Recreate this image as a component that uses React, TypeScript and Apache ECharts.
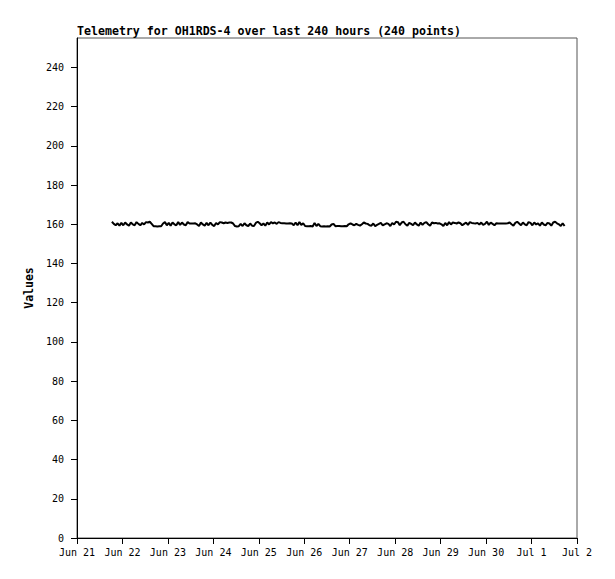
import React, { useEffect, useRef } from "react";
import * as echarts from "echarts";

const TITLE = "Telemetry for OH1RDS-4 over last 240 hours (240 points)";
const Y_NAME = "Values";
const Y_TICKS = [0, 20, 40, 60, 80, 100, 120, 140, 160, 180, 200, 220, 240];
const Y_MIN = 0;
const Y_MAX = 255;
const X_MIN = Date.UTC(2023, 5, 21);
const X_MAX = Date.UTC(2023, 6, 2);
const DAY = 86400000;
const HOUR = 3600000;
const START = Date.UTC(2023, 5, 21, 18, 26);
const MONTHS = ["Jan", "Feb", "Mar", "Apr", "May", "Jun", "Jul", "Aug", "Sep", "Oct", "Nov", "Dec"];

const VALUES = [
  161.3,160.2,159.5,160.5,159.3,160.7,159.5,160.9,159.9,159.3,160.9,160.0,159.5,161.1,160.2,159.5,160.7,159.9,161.1,160.9,
  161.3,160.2,159.0,159.0,158.9,159.0,159.0,160.4,161.1,159.5,160.7,159.3,160.9,160.0,159.5,161.1,159.7,160.9,159.9,159.5,
  161.1,160.4,160.4,160.4,160.5,159.9,159.1,160.9,159.9,159.3,160.7,159.5,160.9,159.7,159.1,160.7,159.9,161.1,160.9,160.5,
  160.9,160.7,160.9,160.9,160.4,159.1,158.9,159.0,160.2,159.1,160.5,159.5,159.1,160.4,159.3,159.1,160.7,161.3,160.5,159.5,
  160.4,159.3,160.9,159.9,161.1,160.5,160.9,160.2,161.1,160.7,160.5,160.5,160.4,160.4,160.5,160.4,159.5,160.9,159.5,161.1,
  159.7,160.5,159.1,159.0,159.0,159.1,158.9,160.7,159.1,160.2,159.0,158.9,159.0,158.9,159.0,158.9,159.9,160.2,159.0,159.1,
  159.1,159.0,159.0,159.1,159.0,160.0,160.5,159.9,159.5,160.2,159.7,159.3,160.0,160.9,160.4,160.2,159.5,159.3,160.4,159.1,
  159.7,160.2,160.7,159.5,160.0,160.5,160.2,159.1,160.7,159.9,161.3,161.1,159.5,160.9,161.3,160.0,159.3,160.7,160.2,159.5,
  160.9,159.9,159.3,160.9,159.7,160.7,161.1,160.0,159.3,160.9,160.5,160.7,160.4,160.5,160.0,159.1,160.7,159.5,161.1,159.9,
  160.9,160.7,160.4,160.9,160.5,159.5,160.2,160.9,159.7,161.1,160.7,160.5,160.4,160.7,159.9,160.9,159.7,160.2,161.3,159.7,
  160.9,160.2,159.5,160.5,160.4,160.4,160.4,160.4,160.4,160.5,160.9,160.0,159.3,160.7,161.3,160.4,159.5,160.9,160.0,159.5,
  161.1,160.7,159.5,160.9,159.9,160.5,159.3,160.9,159.9,159.5,160.7,160.4,159.3,160.9,161.3,160.5,160.0,159.1,160.5,159.1,
];

function fmtDate(v: number): string {
  const d = new Date(v);
  return MONTHS[d.getUTCMonth()] + " " + d.getUTCDate();
}

export default function App() {
  const ref = useRef<HTMLDivElement>(null);
  useEffect(() => {
    if (!ref.current) return;
    const chart = echarts.init(ref.current, null, { renderer: "svg" });
    const data = VALUES.map((v, i) => [START + i * HOUR, v]);
    const font = "DejaVu Sans Mono";
    chart.setOption({
      animation: false,
      backgroundColor: "#ffffff",
      title: {
        text: TITLE,
        left: 77,
        top: 25,
        padding: 0,
        textStyle: { fontFamily: font, fontSize: 11.6, fontWeight: "bold", color: "#000" },
      },
      grid: {
        left: 77,
        top: 38,
        right: 38,
        bottom: 41,
        show: true,
        borderColor: "#555",
        borderWidth: 1,
        containLabel: false,
      },
      xAxis: {
        type: "value",
        min: X_MIN,
        max: X_MAX,
        interval: DAY,
        splitLine: { show: false },
        axisLine: { show: true, onZero: false, lineStyle: { color: "#000", width: 1 } },
        axisTick: { show: true, length: 6, lineStyle: { color: "#000" } },
        axisLabel: {
          formatter: (v: number) => fmtDate(v),
          fontFamily: font,
          fontSize: 10,
          color: "#000",
          margin: 9,
          showMinLabel: true,
          showMaxLabel: true,
        },
      },
      yAxis: {
        type: "value",
        min: Y_MIN,
        max: Y_MAX,
        interval: 20,
        name: Y_NAME,
        nameLocation: "middle",
        nameGap: 37,
        nameRotate: 90,
        nameTextStyle: { fontFamily: font, fontSize: 11.5, fontWeight: "bold", color: "#000" },
        splitLine: { show: false },
        axisLine: { show: true, lineStyle: { color: "#000", width: 1 } },
        axisTick: { show: true, length: 6, lineStyle: { color: "#000" }, customValues: Y_TICKS },
        axisLabel: {
          fontFamily: font,
          fontSize: 10,
          color: "#000",
          margin: 13,
          customValues: Y_TICKS,
        },
      },
      series: [
        {
          type: "line",
          data,
          showSymbol: false,
          symbol: "none",
          lineStyle: { color: "#000", width: 2 },
        },
      ],
    });
    return () => chart.dispose();
  }, []);
  return (
    <div
      ref={ref}
      style={{ position: "fixed", left: 0, top: 0, width: 615, height: 579, background: "#fff" }}
    />
  );
}
